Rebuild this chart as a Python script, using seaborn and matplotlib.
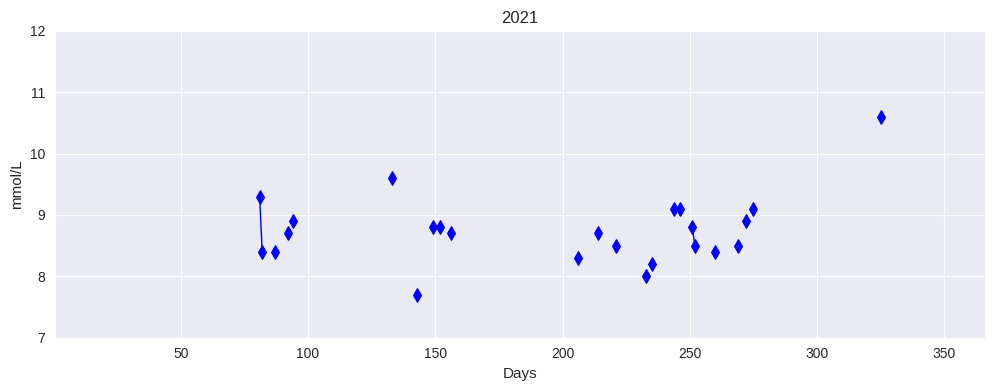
import numpy as np
import pandas as pd
import matplotlib
matplotlib.use("Agg")
import matplotlib.pyplot as plt
import seaborn as sns

title = "2021"
x_label = "Days"
y_label = "mmol/L"
days = [81, 82, 87, 92, 94, 133, 143, 149, 152, 156, 206, 214, 221, 233, 235,
        244, 246, 251, 252, 260, 269, 272, 275, 325]
values = [9.3, 8.4, 8.4, 8.7, 8.9, 9.6, 7.7, 8.8, 8.8, 8.7, 8.3, 8.7, 8.5, 8.0, 8.2,
          9.1, 9.1, 8.8, 8.5, 8.4, 8.5, 8.9, 9.1, 10.6]
x_ticks = [50, 100, 150, 200, 250, 300, 350]
y_ticks = [7, 8, 9, 10, 11, 12]

sns.set_style("darkgrid")
plt.rcParams['font.family'] = ['Liberation Sans', 'DejaVu Sans']

df = pd.DataFrame({"day": days, "value": values})
# consecutive days form one connected run
df["run"] = (df["day"].diff() != 1).cumsum()

fig, ax = plt.subplots(figsize=(9.94, 3.89), dpi=100)
sns.lineplot(data=df, x="day", y="value", units="run", estimator=None,
             color="blue", marker="d", markersize=7.5, markeredgecolor="blue",
             markeredgewidth=0.75, linewidth=1, ax=ax, legend=False)

ax.set_xlim(0.6, 366)
ax.set_ylim(7, 12)
ax.set_xticks(x_ticks)
ax.set_yticks(y_ticks)
ax.tick_params(labelsize=10)
ax.set_xlabel(x_label, fontsize=11)
ax.set_ylabel(y_label, fontsize=11)
ax.set_title(title, fontsize=12)

fig.subplots_adjust(left=55/994, right=985/994, top=1-31/389, bottom=1-337.5/389)
fig.savefig("out.png", dpi=100)
